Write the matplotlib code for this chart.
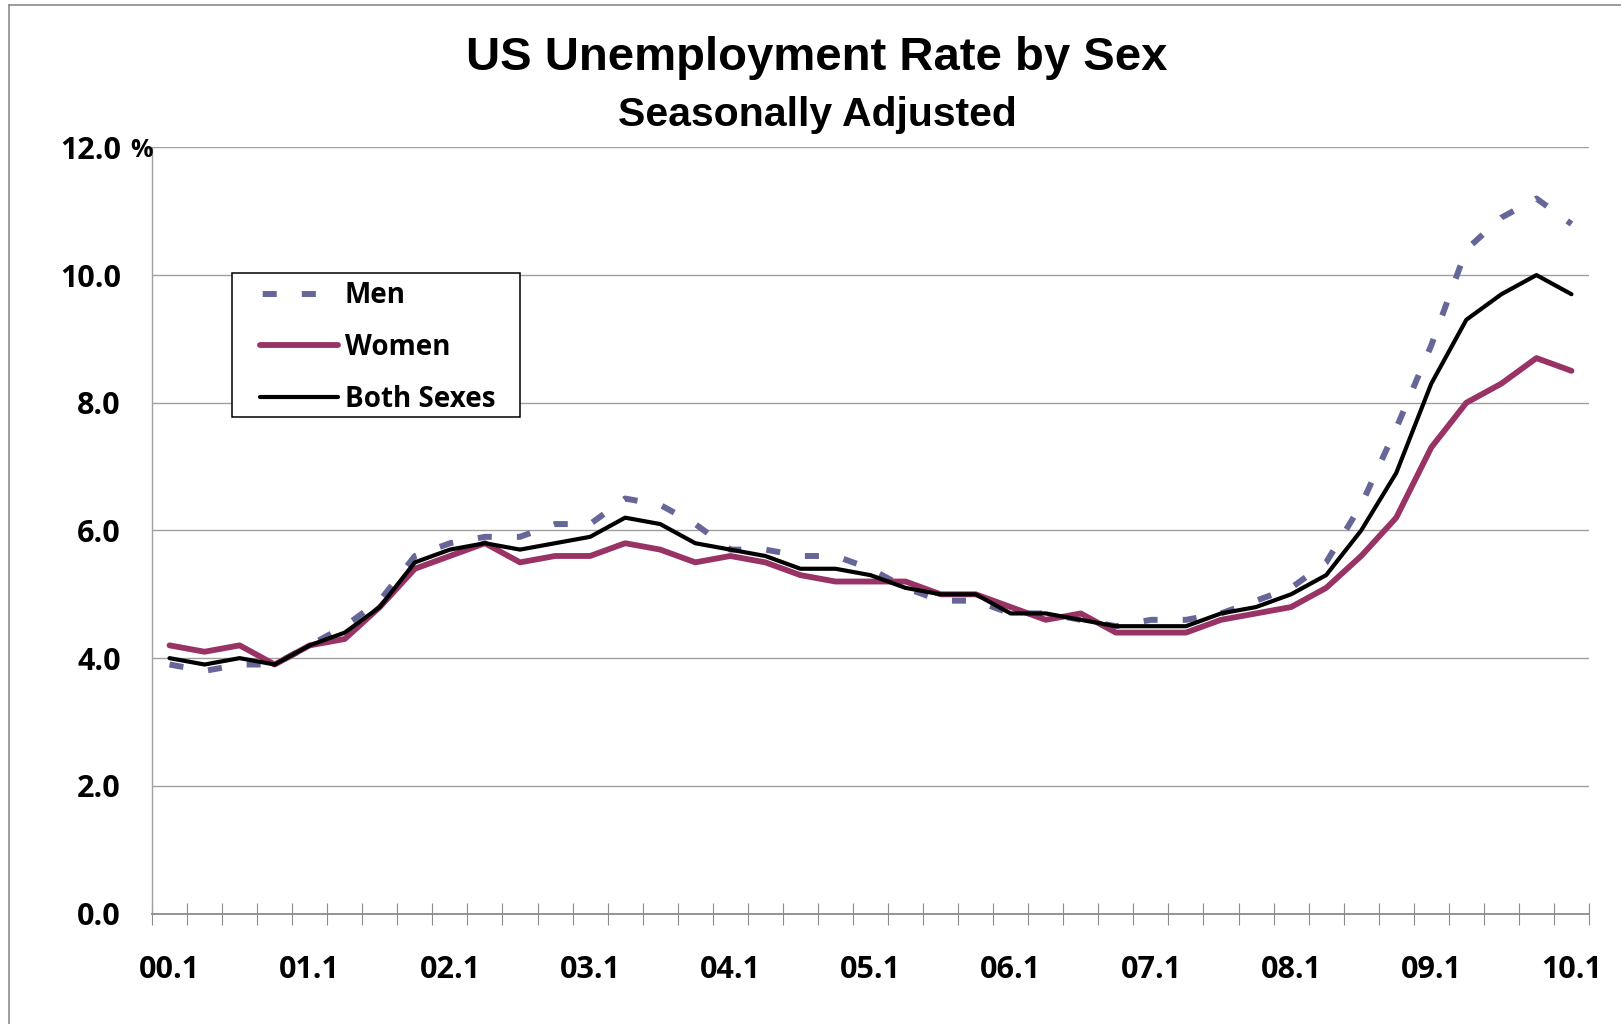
import matplotlib
matplotlib.use("Agg")
import matplotlib.pyplot as plt
from matplotlib import transforms
from matplotlib.lines import Line2D
from matplotlib.patches import Rectangle

# quarterly averages, 2000 Q1 .. 2010 Q1 (percent)
men = [3.9, 3.8, 3.9, 3.9, 4.2, 4.5, 4.9, 5.6, 5.8, 5.9, 5.9, 6.1,
       6.1, 6.5, 6.4, 6.1, 5.7, 5.7, 5.6, 5.6, 5.4, 5.1, 4.9, 4.9,
       4.7, 4.7, 4.6, 4.5, 4.6, 4.6, 4.7, 4.9, 5.1, 5.5, 6.4, 7.6,
       8.9, 10.4, 10.9, 11.2, 10.8]
women = [4.2, 4.1, 4.2, 3.9, 4.2, 4.3, 4.8, 5.4, 5.6, 5.8, 5.5, 5.6,
         5.6, 5.8, 5.7, 5.5, 5.6, 5.5, 5.3, 5.2, 5.2, 5.2, 5.0, 5.0,
         4.8, 4.6, 4.7, 4.4, 4.4, 4.4, 4.6, 4.7, 4.8, 5.1, 5.6, 6.2,
         7.3, 8.0, 8.3, 8.7, 8.5]
both = [4.0, 3.9, 4.0, 3.9, 4.2, 4.4, 4.8, 5.5, 5.7, 5.8, 5.7, 5.8,
        5.9, 6.2, 6.1, 5.8, 5.7, 5.6, 5.4, 5.4, 5.3, 5.1, 5.0, 5.0,
        4.7, 4.7, 4.6, 4.5, 4.5, 4.5, 4.7, 4.8, 5.0, 5.3, 6.0, 6.9,
        8.3, 9.3, 9.7, 10.0, 9.7]
year_labels = ["00.1", "01.1", "02.1", "03.1", "04.1", "05.1",
               "06.1", "07.1", "08.1", "09.1", "10.1"]
y_ticks = [0, 2, 4, 6, 8, 10, 12]

W, H = 1621, 1024
MEN_C, WOMEN_C = "#666699", "#993366"
GRID_C = "#a0a0a0"
LABEL_FONT = "Open Sans"
tick_font = dict(family=LABEL_FONT, weight="bold", size=22)

fig = plt.figure(figsize=(W / 100, H / 100), dpi=100)
ax = fig.add_axes([152 / W, 1 - 913.5 / H, (1589 - 152) / W, (913.5 - 147.4) / H])

x = list(range(len(both)))
men_ls = (0, (2.35, 4.2))
ax.plot(x, men, color=MEN_C, lw=4.3, linestyle=men_ls,
        dash_capstyle="butt", label="Men", zorder=3)
ax.plot(x, women, color=WOMEN_C, lw=4.2, solid_joinstyle="round",
        solid_capstyle="round", label="Women", zorder=4)
ax.plot(x, both, color="black", lw=3.0, solid_joinstyle="round",
        solid_capstyle="round", label="Both Sexes", zorder=5)

ax.set_xlim(-0.5, len(both) - 0.5)
ax.set_ylim(0, 12)

# labels on every first quarter, tick marks on category boundaries
ax.set_xticks(range(0, len(both), 4))
ax.set_xticklabels(year_labels, fontdict=tick_font)
ax.set_xticks([i - 0.5 for i in range(len(both) + 1)], minor=True)
ax.tick_params(axis="x", which="major", length=0, pad=30)
ax.tick_params(axis="x", which="minor", length=15.5, width=0.8,
               direction="inout", color="#8c8c8c")

ax.set_yticks(y_ticks)
ax.set_yticklabels([f"{v:.1f}" for v in y_ticks], fontdict=tick_font)
ax.tick_params(axis="y", length=0, pad=22.5)
ax.text(130 / W, 12, "%", transform=transforms.blended_transform_factory(
            fig.transFigure, ax.transData),
        ha="left", va="center_baseline", family=LABEL_FONT, weight="bold",
        size=18)

ax.grid(axis="y", color=GRID_C, lw=1.0)
ax.set_axisbelow(True)
for side in ("top", "right"):
    ax.spines[side].set_visible(False)
ax.spines["left"].set_color(GRID_C)
ax.spines["left"].set_linewidth(1.0)
ax.spines["bottom"].set_color("#8c8c8c")
ax.spines["bottom"].set_linewidth(1.3)

fig.text(816.5 / W, 1 - 70 / H, "US Unemployment Rate by Sex", ha="center",
         va="baseline", family="Liberation Sans", weight="bold", size=34)
fig.text(817 / W, 1 - 126 / H, "Seasonally Adjusted", ha="center",
         va="baseline", family="Liberation Sans", weight="bold", size=29.5)

# chart-area border (only top and left edges are visible)
fig.add_artist(Line2D([9 / W, 9 / W], [0, 1 - 5 / H], transform=fig.transFigure,
                      color="#8c8c8c", lw=1.2))
fig.add_artist(Line2D([9 / W, 1], [1 - 5 / H, 1 - 5 / H], transform=fig.transFigure,
                      color="#8c8c8c", lw=1.2))

# legend box
fig.add_artist(Rectangle((232 / W, 1 - 416.7 / H), 288 / W, 144 / H,
                         transform=fig.transFigure, facecolor="white",
                         edgecolor="black", lw=1.1, zorder=3))
handles = [
    Line2D([], [], color=MEN_C, lw=4.3, linestyle=(6.1, (2.35, 4.2)),
           dash_capstyle="butt"),
    Line2D([], [], color=WOMEN_C, lw=4.2, solid_capstyle="round"),
    Line2D([], [], color="black", lw=3.0, solid_capstyle="round"),
]
fig.legend(handles, ["Men", "Women", "Both Sexes"], loc="center left",
           bbox_to_anchor=(260 / W, 1 - 347.5 / H), frameon=False,
           borderpad=0, borderaxespad=0, handlelength=2.8,
           handletextpad=0.25, labelspacing=0.82,
           prop=dict(family=LABEL_FONT, weight="bold", size=20))

fig.savefig("out.png", dpi=100)
